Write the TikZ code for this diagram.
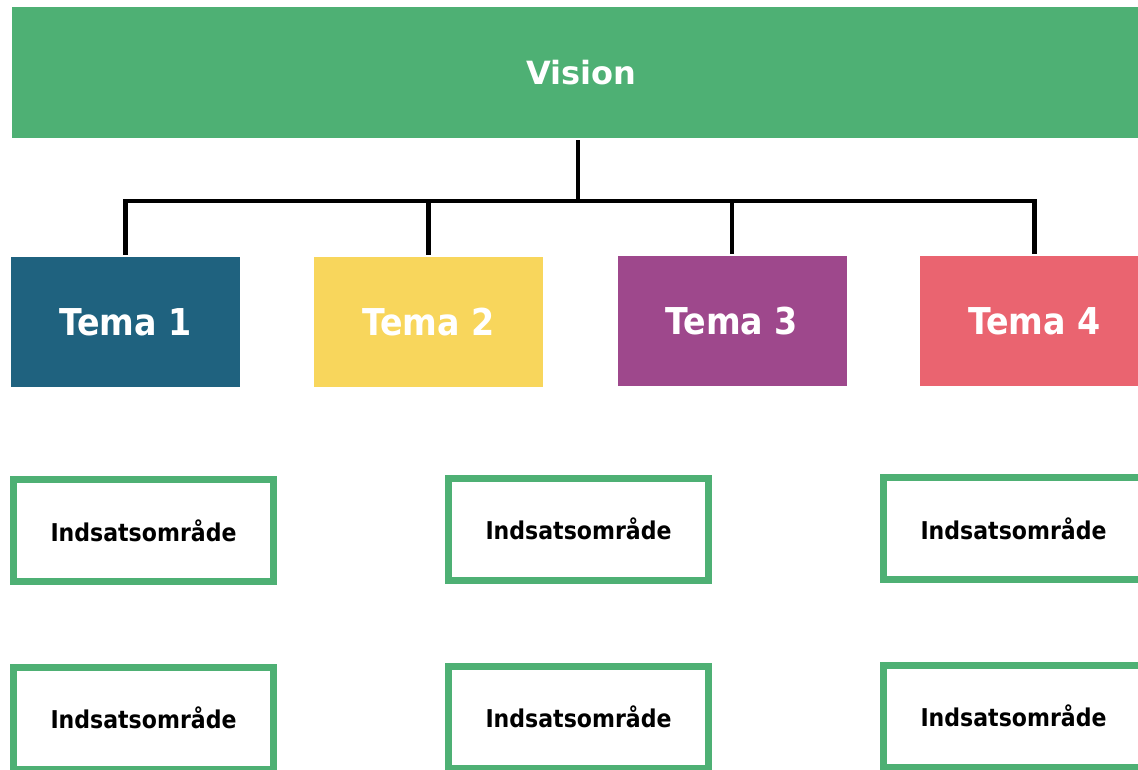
\documentclass[tikz,border=0pt]{standalone}
\usepackage{fontspec}
\setmainfont{DejaVu Sans}
\newfontfamily\condfont{DejaVu Sans Condensed}
\definecolor{visgreen}{RGB}{78,176,116}
\definecolor{temablue}{RGB}{31,98,127}
\definecolor{temayellow}{RGB}{248,214,92}
\definecolor{temapurple}{RGB}{158,72,140}
\definecolor{temared}{RGB}{234,100,112}

\begin{document}
\begin{tikzpicture}[x=1pt, y=-1pt, line width=4.5pt,
		tema/.style={minimum width=229pt, minimum height=130pt, inner sep=0pt,
			text=white, font=\condfont\bfseries\fontsize{37}{37}\selectfont},
		indsats/.style={draw=visgreen, line width=7pt, fill=white,
			minimum width=260pt, minimum height=102pt, inner sep=0pt,
			font=\condfont\bfseries\fontsize{24.5}{24.5}\selectfont}
		]
	\fill[white] (0,0) rectangle (1138,769);
	\useasboundingbox (0,0) rectangle (1138,769);
	\node [fill=visgreen, minimum width=1138pt, minimum height=131pt, inner sep=0pt,
		text=white, font=\bfseries\fontsize{32}{32}\selectfont] (vision) at (581,72.5) {Vision};
	\node [tema, fill=temablue] (t1) at (125.5,322) {Tema 1};
	\node [tema, fill=temayellow] (t2) at (428.5,322) {Tema 2};
	\node [tema, fill=temapurple] (t3) at (732,321) {Tema 3};
	\node [tema, fill=temared] (t4) at (1034.5,321) {Tema 4};
	\coordinate (bus) at (578,201);
	\draw (vision.south -| bus) -- (bus);
	\foreach \t in {t1,t2,t3,t4}
	  \draw (bus) -| (\t.north);
	\node [indsats] (i11) at (143.5,530.5) {Indsatsområde};
	\node [indsats] (i21) at (578.5,529) {Indsatsområde};
	\node [indsats] (i31) at (1013.5,528.5) {Indsatsområde};
	\node [indsats] (i12) at (143.5,718) {Indsatsområde};
	\node [indsats] (i22) at (578.5,717) {Indsatsområde};
	\node [indsats] (i32) at (1013.5,716) {Indsatsområde};
	\end{tikzpicture}
\end{document}
